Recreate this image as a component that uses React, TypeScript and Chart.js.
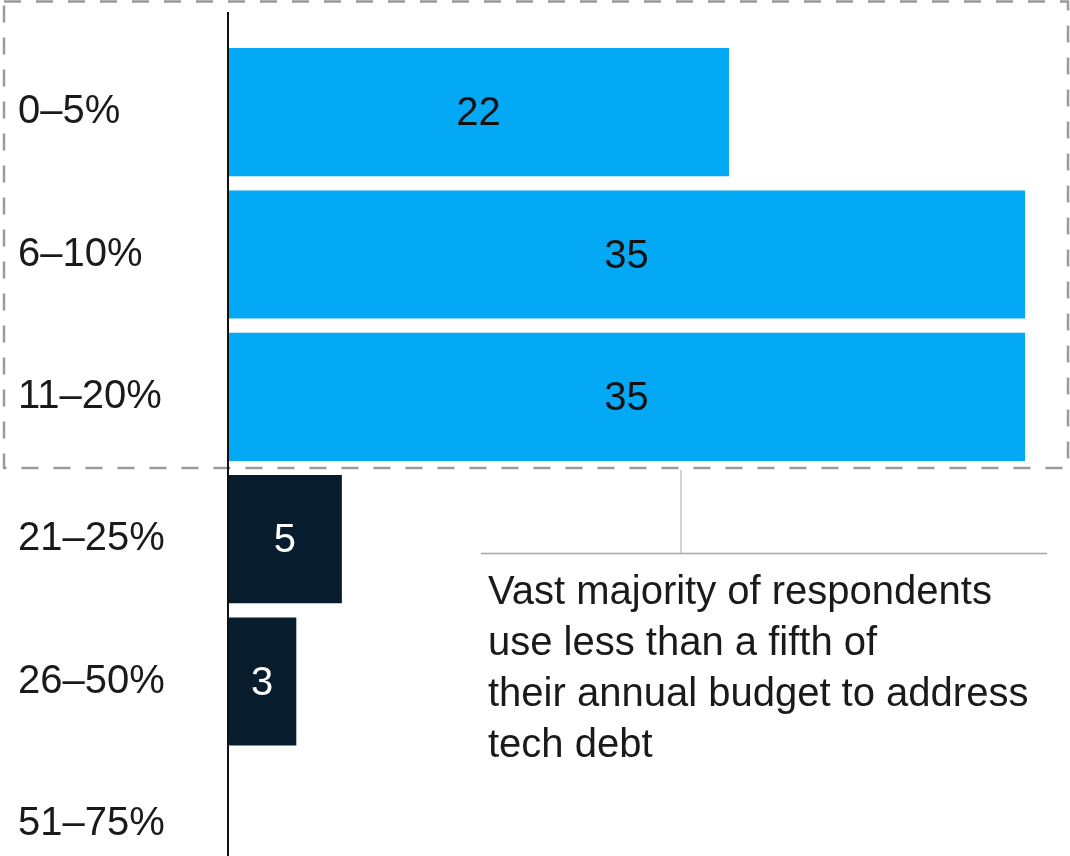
import React, { useEffect, useRef } from "react";
import { Chart, registerables } from "chart.js";

Chart.register(...registerables);

const categories = ["0–5%", "6–10%", "11–20%", "21–25%", "26–50%", "51–75%"];
const values = [22, 35, 35, 5, 3, 0];
const barColors = ["#03A9F4", "#03A9F4", "#03A9F4", "#071C2C", "#071C2C", "#071C2C"];
const valueLabelColors = ["#111111", "#111111", "#111111", "#FFFFFF", "#FFFFFF", "#FFFFFF"];
const noteLines = [
  "Vast majority of respondents",
  "use less than a fifth of",
  "their annual budget to address",
  "tech debt",
];

const FONT = '"Liberation Sans", Arial, sans-serif';

const decorPlugin = {
  id: "decor",
  afterDatasetsDraw(chart: any) {
    const ctx = chart.ctx;
    const meta = chart.getDatasetMeta(0);
    ctx.save();
    ctx.font = `40px ${FONT}`;
    ctx.textAlign = "center";
    ctx.textBaseline = "middle";
    meta.data.forEach((bar: any, i: number) => {
      const v = values[i];
      if (!v) return;
      ctx.fillStyle = valueLabelColors[i];
      ctx.fillText(String(v), (bar.x + bar.base) / 2, bar.y + 2);
    });
    ctx.restore();
  },
  afterDraw(chart: any) {
    const ctx = chart.ctx;
    const xs = chart.scales.x;
    const ys = chart.scales.y;
    const boxBottom = (ys.getPixelForValue(2) + ys.getPixelForValue(3)) / 2;
    ctx.save();
    // dashed highlight box
    ctx.strokeStyle = "#9A9A9A";
    ctx.lineWidth = 2.5;
    ctx.setLineDash([17, 15]);
    ctx.strokeRect(4, 1.5, 1064, boxBottom - 1.5);
    ctx.setLineDash([]);
    // axis line
    const x0 = xs.getPixelForValue(0);
    ctx.strokeStyle = "#111111";
    ctx.lineWidth = 2;
    ctx.beginPath();
    ctx.moveTo(x0, 12);
    ctx.lineTo(x0, chart.height);
    ctx.stroke();
    // annotation connector
    ctx.strokeStyle = "#C4C4C4";
    ctx.lineWidth = 1.5;
    ctx.beginPath();
    ctx.moveTo(681, boxBottom + 2);
    ctx.lineTo(681, 553);
    ctx.stroke();
    ctx.strokeStyle = "#A8A8A8";
    ctx.beginPath();
    ctx.moveTo(481, 553.5);
    ctx.lineTo(1047, 553.5);
    ctx.stroke();
    // annotation text
    ctx.fillStyle = "#1A1A1A";
    ctx.font = `40px ${FONT}`;
    ctx.textAlign = "left";
    ctx.textBaseline = "middle";
    noteLines.forEach((t, i) => ctx.fillText(t, 488, 593 + i * 51));
    ctx.restore();
  },
};

export default function App() {
  const ref = useRef<HTMLCanvasElement | null>(null);
  useEffect(() => {
    if (!ref.current) return;
    const chart = new Chart(ref.current, {
      type: "bar",
      data: {
        labels: categories,
        datasets: [
          {
            data: values,
            backgroundColor: barColors,
            borderWidth: 0,
            categoryPercentage: 1,
            barPercentage: 0.9,
          },
        ],
      },
      options: {
        indexAxis: "y",
        responsive: false,
        animation: false,
        layout: { padding: { left: 18, right: 45, top: 41, bottom: 0 } },
        plugins: { legend: { display: false }, tooltip: { enabled: false } },
        scales: {
          x: { display: false, min: 0, max: 35 },
          y: {
            grid: { display: false },
            border: { display: false },
            afterFit: (scale: any) => {
              scale.width = 210;
              scale.paddingTop = 0;
              scale.paddingBottom = 0;
            },
            ticks: {
              crossAlign: "far",
              padding: 0,
              color: "#1A1A1A",
              font: { family: FONT, size: 40 },
            },
          },
        },
      },
      plugins: [decorPlugin],
    });
    return () => chart.destroy();
  }, []);
  return (
    <div style={{ position: "absolute", left: 0, top: 0, width: 1070, height: 856, overflow: "hidden", background: "#fff" }}>
      <canvas ref={ref} width={1070} height={895} />
    </div>
  );
}
